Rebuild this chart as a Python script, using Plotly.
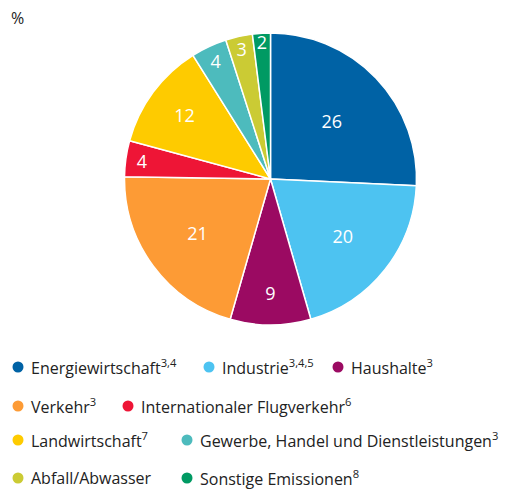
import plotly.graph_objects as go

categories = ["Energiewirtschaft", "Industrie", "Haushalte", "Verkehr",
              "Internationaler Flugverkehr", "Landwirtschaft",
              "Gewerbe, Handel und Dienstleistungen", "Abfall/Abwasser",
              "Sonstige Emissionen"]
footnotes = ["3,4", "3,4,5", "3", "3", "6", "7", "3", "", "8"]
values = [26, 20, 9, 21, 4, 12, 4, 3, 2]
colors = ["#0062a5", "#4dc3f1", "#9b0a62", "#fd9b35", "#ee1536",
          "#fecb00", "#4dbbbd", "#cbcb34", "#009a63"]

W, H = 516, 489
FONT = "Open Sans"

fig = go.Figure()
fig.add_trace(go.Pie(
    labels=categories, values=values, sort=False, direction="clockwise",
    rotation=0, marker=dict(colors=colors, line=dict(color="white", width=1.5)),
    textinfo="value", textposition="inside", insidetextorientation="horizontal",
    textfont=dict(family=FONT, size=18, color="white"),
    showlegend=False, hoverinfo="label+value",
    domain=dict(x=[124 / W, 417 / W], y=[(H - 325) / H, (H - 33) / H]),
))

# legend rows (pixel positions of marker centres)
legend_pos = [(18, 367), (209, 367), (338, 367),
              (18, 406), (128, 406),
              (18, 440), (187, 440),
              (18, 478), (187, 478)]
shapes = []
annotations = []
for (px, py), name, fn, c in zip(legend_pos, categories, footnotes, colors):
    r = 5.5
    shapes.append(dict(type="circle", xref="paper", yref="paper",
                       x0=(px - r) / W, x1=(px + r) / W,
                       y0=(H - py - r) / H, y1=(H - py + r) / H,
                       fillcolor=c, line=dict(width=0)))
    txt = name + (f"<sup>{fn}</sup>" if fn else "")
    annotations.append(dict(text=txt, xref="paper", yref="paper",
                            x=(px + 11) / W, y=(H - py) / H,
                            xanchor="left", yanchor="middle", showarrow=False,
                            font=dict(family=FONT, size=16, color="#222222")))

annotations.append(dict(text="%", xref="paper", yref="paper",
                        x=9 / W, y=(H - 18) / H, xanchor="left", yanchor="middle",
                        showarrow=False,
                        font=dict(family=FONT, size=16, color="#222222")))

fig.update_layout(width=W, height=H, margin=dict(l=0, r=0, t=0, b=0),
                  paper_bgcolor="white", plot_bgcolor="white",
                  shapes=shapes, annotations=annotations,
                  uniformtext=dict(minsize=18, mode="show"),
                  font=dict(family=FONT))
fig.write_html("out.html", config=dict(displayModeBar=False),
               post_script="document.body.style.margin='0';document.body.style.padding='0';")
